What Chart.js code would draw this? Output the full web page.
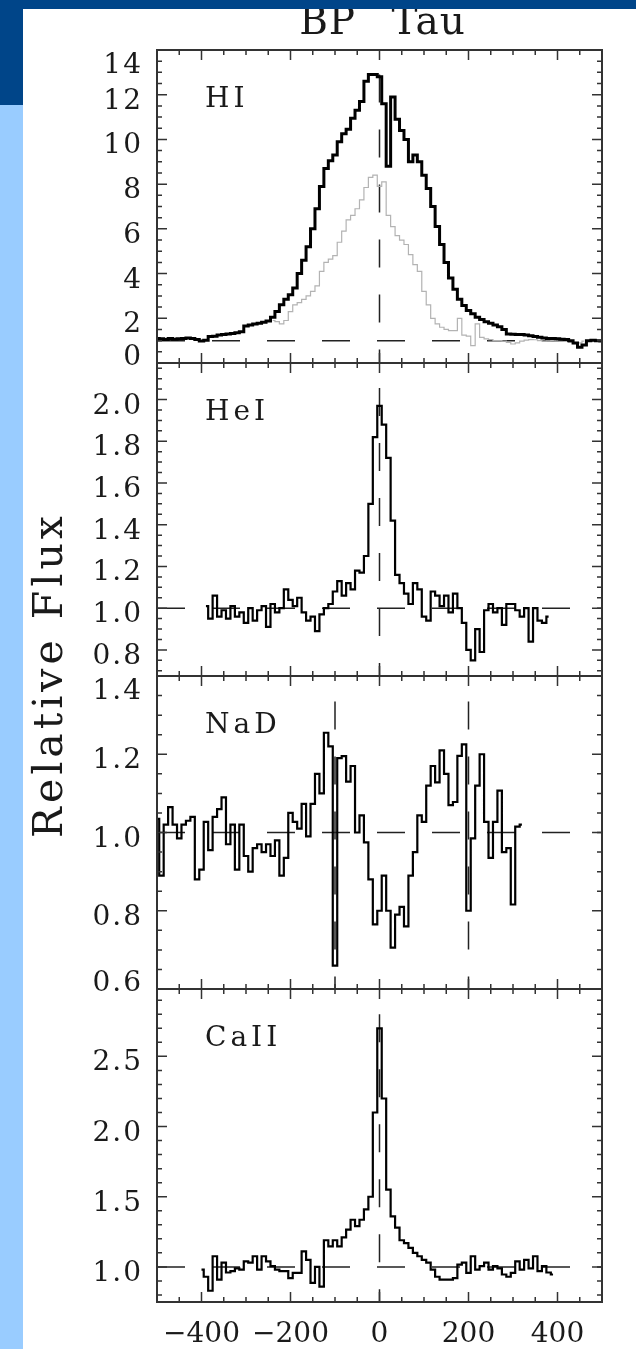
<!DOCTYPE html>
<html lang="en">
<head>
<meta charset="utf-8">
<title>BP Tau - line profiles</title>
<script src="https://cdn.jsdelivr.net/npm/chart.js"></script>
<style>
  html, body { margin: 0; padding: 0; background: #fff; }
  body { width: 636px; height: 1349px; position: relative; overflow: hidden; }
  .band { position: absolute; left: 0; top: 0; width: 636px; height: 9px; background: #004589; z-index: 5; }
  .corner { position: absolute; left: 0; top: 0; width: 23px; height: 105px; background: #004589; z-index: 5; }
  .strip { position: absolute; left: 0; top: 105px; width: 23px; height: 1244px; background: #99ccff; z-index: 5; }
  canvas { position: absolute; left: 0; top: 0; }
</style>
</head>
<body>
<div class="band"></div>
<div class="corner"></div>
<div class="strip"></div>
<canvas id="hi" width="636" height="1349"></canvas>
<canvas id="he" width="636" height="1349"></canvas>
<canvas id="na" width="636" height="1349"></canvas>
<canvas id="ca" width="636" height="1349"></canvas>

<script>
// velocity bins are 10 km/s wide
function grid(from, to) {
  const out = [];
  for (let v = from; v <= to; v += 10) out.push(v);
  return out;
}

const velTicks = [-400, -200, 0, 200, 400];

// HI (Halpha): two epochs, black = strong, grey = weak
const hiVel = grid(-500, 500);
const hiFlux = [
  1.1, 1.08, 1.05, 1.1, 1.06, 1.08, 1.1, 1.12, 1.1, 1.05,
  0.98, 1.02, 1.18, 1.2, 1.25, 1.28, 1.3, 1.32, 1.35, 1.4,
  1.65, 1.7, 1.74, 1.78, 1.82, 1.88, 2.05, 2.3, 2.6, 2.85,
  3.05, 3.35, 4.0, 4.6, 5.2, 6.0, 6.9, 7.9, 8.7, 9.05,
  9.3, 9.9, 10.25, 10.45, 10.95, 11.3, 11.7, 12.6, 12.9, 12.9,
  12.8, 11.6, 8.8, 11.9, 10.9, 10.4, 10.0, 9.0, 9.3, 9.0,
  8.4, 7.8, 7.0, 6.1, 5.3, 4.5, 3.8, 3.3, 2.85, 2.57,
  2.35, 2.2, 2.05, 1.95, 1.85, 1.78, 1.7, 1.62, 1.5, 1.3,
  1.29, 1.28, 1.28, 1.25, 1.22, 1.18, 1.15, 1.12, 1.1, 1.1,
  1.08, 1.06, 1.05, 1.0, 0.9, 0.7, 0.8, 1.0, 1.02, 1.0,
  0.98
];
const hiGreyVel = grid(-240, 460);
const hiGreyFlux = [
  1.9, 1.85, 1.75, 1.9, 2.3, 2.6, 2.7, 2.85, 3.0, 3.2,
  3.45, 4.1, 4.5, 4.65, 4.8, 5.4, 5.9, 6.4, 6.6, 6.9,
  7.3, 7.85, 8.3, 8.4, 7.9, 8.1, 6.6, 6.1, 5.7, 5.5,
  5.3, 4.85, 4.4, 4.1, 3.2, 2.6, 2.0, 1.75, 1.6, 1.5,
  1.45, 1.45, 2.0, 1.25, 1.2, 0.78, 1.75, 1.15, 1.08, 1.05,
  1.0, 1.0, 0.98, 0.92, 0.85, 0.9, 0.98, 1.02, 1.05, 1.04,
  1.0, 0.98, 0.99, 1.0, 0.99, 0.98, 0.97, 0.92, 0.86, 0.9,
  0.98
];
const hiRange = [0, 14];
const hiTicks = [0, 2, 4, 6, 8, 10, 12, 14];

// HeI 5876
const heVel = grid(-390, 380);
const heFlux = [
  1.01, 0.95, 1.06, 0.96, 0.99, 0.95, 1.01, 0.96, 0.98, 0.93,
  1.0, 0.94, 0.99, 1.01, 0.91, 1.02, 0.98, 1.0, 1.09, 1.04,
  1.01, 1.05, 0.98, 0.94, 0.96, 0.89, 0.97, 1.0, 1.02, 1.08,
  1.13, 1.06, 1.12, 1.09, 1.18, 1.17, 1.25, 1.5, 1.82, 1.97,
  1.88, 1.72, 1.42, 1.16, 1.12, 1.07, 1.02, 1.12, 1.09, 0.96,
  0.94, 1.08, 1.06, 1.01, 1.06, 0.98, 1.07, 1.0, 0.93, 0.8,
  0.75, 0.9, 0.79, 0.99, 1.02, 0.98, 1.0, 0.92, 1.02, 1.02,
  0.99, 0.96, 1.0, 0.84, 1.0, 0.94, 0.93, 0.96
];
const heRange = [0.675, 2.175];
const heTicks = [0.8, 1.0, 1.2, 1.4, 1.6, 1.8, 2.0];

// NaD
const naVel = grid(-500, 320);
const naFlux = [
  1.035, 0.89, 1.02, 1.065, 1.02, 0.985, 1.02, 1.03, 1.04, 0.88,
  0.905, 1.027, 0.955, 1.04, 1.06, 1.09, 0.97, 1.02, 0.905, 1.02,
  0.94, 0.9, 0.96, 0.97, 0.95, 0.97, 0.94, 0.98, 0.89, 0.935,
  1.05, 1.027, 1.01, 1.073, 0.99, 1.073, 1.15, 1.1, 1.255, 1.22,
  0.66, 1.19, 1.195, 1.13, 1.17, 1.0, 1.044, 0.975, 0.88, 0.765,
  0.8, 0.89, 0.8, 0.706, 0.79, 0.81, 0.76, 0.89, 0.95, 1.044,
  1.027, 1.12, 1.17, 1.128, 1.21, 1.15, 1.07, 1.078, 1.196, 1.225,
  0.8, 0.985, 1.12, 1.2, 1.027, 0.935, 1.027, 1.107, 0.95, 0.96,
  0.816, 1.015, 1.02
];
const naRange = [0.6, 1.4];
const naTicks = [0.6, 0.8, 1.0, 1.2, 1.4];

// CaII 8498
const caVel = grid(-400, 390);
const caFlux = [
  0.98, 0.93, 0.83, 1.076, 0.91, 1.03, 0.96, 0.97, 0.99, 0.98,
  1.04, 1.03, 1.076, 0.98, 1.076, 1.04, 1.005, 0.98, 0.97, 0.97,
  0.92, 0.957, 0.957, 1.11, 1.05, 0.886, 1.0, 0.86, 1.19, 1.147,
  1.19, 1.147, 1.21, 1.265, 1.336, 1.29, 1.336, 1.41, 1.5, 2.1,
  2.7, 2.2, 1.55, 1.36, 1.28, 1.19, 1.17, 1.135, 1.1, 1.076,
  1.05, 1.03, 0.98, 0.93, 0.91, 0.91, 0.91, 0.92, 1.016, 1.03,
  0.957, 1.076, 0.98, 1.005, 1.03, 0.98, 1.005, 0.99, 0.946, 0.93,
  0.957, 1.04, 0.98, 1.05, 0.99, 1.076, 0.97, 1.005, 0.96, 0.946
];
const caRange = [0.75, 2.98];
const caTicks = [1.0, 1.5, 2.0, 2.5];

// reference velocities (dashed verticals) and how high they reach
const hiMarks = [0], hiMarkTop = 12.9;
const heMarks = [0], heMarkTop = 2.055;
const naMarks = [-100, 200], naMarkTop = 1.335;
const caMarks = [0], caMarkTop = 2.8;

const FONT = '"DejaVu Serif", "Liberation Serif", serif';

function pts(vel, flux) {
  return vel.map((v, i) => ({ x: v, y: flux[i] }));
}

function spectrum(vel, flux, color, width, order) {
  return {
    data: pts(vel, flux), borderColor: color, borderWidth: width,
    stepped: 'middle', pointRadius: 0, fill: false, order: order
  };
}

function dashed(points) {
  return {
    data: points, borderColor: '#222', borderWidth: 1.5, borderDash: [28, 27],
    pointRadius: 0, fill: false, order: 5
  };
}

// box with inward ticks on all sides, tick labels and line name
const framePlugin = {
  id: 'frame',
  afterDatasetsDraw(chart, args, o) {
    const { ctx, chartArea: a, scales: { x, y } } = chart;
    ctx.save();
    ctx.strokeStyle = '#333';
    ctx.lineWidth = 1.5;
    ctx.beginPath();
    for (let v = -450; v <= 450; v += 50) {
      const px = x.getPixelForValue(v);
      const len = v % 200 === 0 ? 10 : 5;
      ctx.moveTo(px, a.top); ctx.lineTo(px, a.top + len);
      ctx.moveTo(px, a.bottom); ctx.lineTo(px, a.bottom - len);
    }
    const k0 = Math.ceil(y.min / o.minor - 1e-6), k1 = Math.floor(y.max / o.minor + 1e-6);
    for (let k = k0; k <= k1; k++) {
      const v = k * o.minor;
      const major = o.ticks.some(t => Math.abs(t - v) < 1e-6);
      const py = y.getPixelForValue(v);
      const len = major ? 10 : 5;
      ctx.moveTo(a.left, py); ctx.lineTo(a.left + len, py);
      ctx.moveTo(a.right, py); ctx.lineTo(a.right - len, py);
    }
    ctx.stroke();
    ctx.lineWidth = 2;
    ctx.strokeRect(a.left, a.top, a.right - a.left, a.bottom - a.top);

    ctx.fillStyle = '#1a1a1a';
    ctx.font = '28px ' + FONT;
    ctx.letterSpacing = '2px';
    ctx.textAlign = 'right';
    ctx.textBaseline = 'alphabetic';
    o.ticks.forEach(t => {
      let cy = y.getPixelForValue(t) + 4;
      cy = Math.min(Math.max(cy, a.top + 13), a.bottom - 8);
      ctx.fillText(t.toFixed(o.decimals), a.left - 14, cy + 10);
    });

    ctx.textAlign = 'left';
    ctx.letterSpacing = '4px';
    ctx.fillText(o.name, 205, a.top + 57);

    if (o.xLabels) {
      ctx.textAlign = 'center';
      ctx.letterSpacing = '0px';
      velTicks.forEach(v => {
        const s = v < 0 ? '\u2212' + Math.abs(v) : String(v);
        ctx.fillText(s, x.getPixelForValue(v), a.bottom + 40);
      });
    }

    if (o.titles) {
      ctx.textAlign = 'center';
      ctx.font = '39px ' + FONT;
      ctx.letterSpacing = '1px';
      ctx.wordSpacing = '22px';
      ctx.fillText('BP Tau', (a.left + a.right) / 2 + 3, 34);
      ctx.wordSpacing = '0px';
      ctx.save();
      ctx.translate(62, 675);
      ctx.rotate(-Math.PI / 2);
      ctx.font = '41px ' + FONT;
      ctx.letterSpacing = '4px';
      ctx.fillText('Relative Flux', 0, 0);
      ctx.restore();
    }
    ctx.restore();
  }
};

function makePanel(id, top, bottom, range, datasets, frame) {
  return new Chart(document.getElementById(id), {
    type: 'line',
    data: { datasets: datasets },
    options: {
      responsive: false,
      animation: false,
      layout: { padding: { left: 157, right: 34, top: top, bottom: 1349 - bottom } },
      scales: {
        x: { type: 'linear', min: -500, max: 500, display: false },
        y: { type: 'linear', min: range[0], max: range[1], display: false }
      },
      elements: { line: { tension: 0, borderJoinStyle: 'miter' }, point: { radius: 0 } },
      plugins: { legend: { display: false }, tooltip: { enabled: false }, frame: frame }
    },
    plugins: [framePlugin]
  });
}

function markLines(marks, markTop, range) {
  return marks.map(v => dashed([{ x: v, y: markTop }, { x: v, y: range[0] }]));
}
const unity = () => dashed([{ x: -500, y: 1 }, { x: 500, y: 1 }]);

makePanel('hi', 50, 363, hiRange, [
  spectrum(hiVel, hiFlux, '#000', 3, 0),
  spectrum(hiGreyVel, hiGreyFlux, '#b3b3b3', 1.2, 1),
  unity(),
  ...markLines(hiMarks, hiMarkTop, hiRange)
], { ticks: hiTicks, minor: 0.5, decimals: 0, name: 'HI', titles: true });

makePanel('he', 363, 676, heRange, [
  spectrum(heVel, heFlux, '#000', 2.2, 0),
  unity(),
  ...markLines(heMarks, heMarkTop, heRange)
], { ticks: heTicks, minor: 0.05, decimals: 1, name: 'HeI' });

makePanel('na', 676, 989, naRange, [
  spectrum(naVel, naFlux, '#000', 2.2, 0),
  unity(),
  ...markLines(naMarks, naMarkTop, naRange)
], { ticks: naTicks, minor: 0.05, decimals: 1, name: 'NaD' });

makePanel('ca', 989, 1302, caRange, [
  spectrum(caVel, caFlux, '#000', 2.2, 0),
  unity(),
  ...markLines(caMarks, caMarkTop, caRange)
], { ticks: caTicks, minor: 0.1, decimals: 1, name: 'CaII', xLabels: true });
</script>
</body>
</html>
